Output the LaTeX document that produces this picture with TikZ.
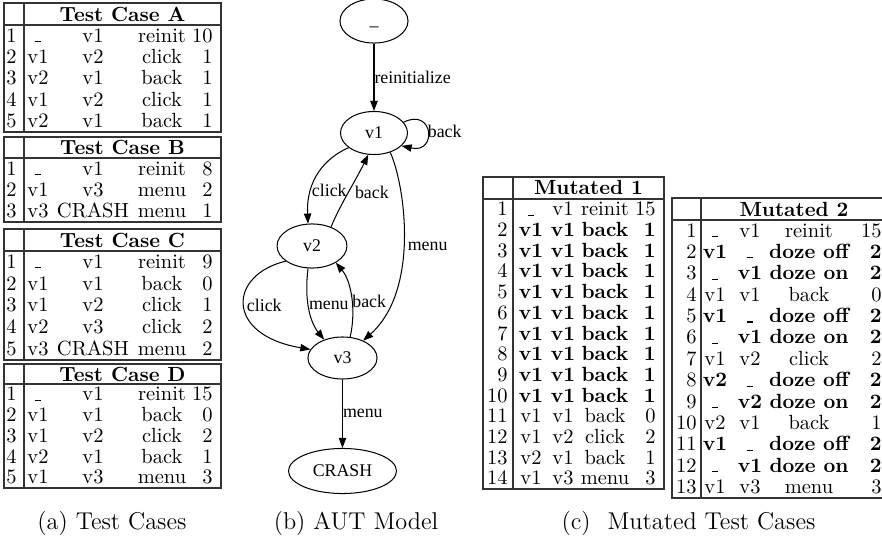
\documentclass[tikz,border=0pt]{standalone}
\usepackage{fontspec}
\usetikzlibrary{shapes.geometric,arrows.meta}
\newfontfamily\gvfont{Liberation Serif}
\newcommand\blank{\rule{0.32em}{0.06em}}
\newcommand\tabfont{\fontsize{10}{12}\selectfont}
\tikzset{
  tline/.style={draw=black!80, line width=0.7pt},
  hdline/.style={draw=black!80, line width=1pt},
  tt/.style={inner sep=0pt, font=\tabfont},
  fb/.style={font=\tabfont\bfseries},
  gv/.style={ellipse, draw, line width=0.5pt, inner sep=0pt, font=\gvfont\fontsize{8.7}{10.5}\selectfont},
  elab/.style={font=\gvfont\fontsize{8.7}{10.5}\selectfont, inner sep=0pt, anchor=west},
  conn/.style={draw, line width=0.5pt, -{Triangle[length=4.9pt,width=3.6pt]}},
  captext/.style={font=\fontsize{11.85}{14}\selectfont, anchor=base, inner sep=0pt}
}
% #1 name, #2 title, #3 top, #4 header line, #5 row spacing, #6 number of rows, #7 rows
\newcommand\tcase[7]{%
  \pgfmathsetmacro\tbot{#4+#5*#6}
  \draw[tline] (4,#3) rectangle (221,\tbot);
  \draw[tline] (24,#3) -- (24,\tbot);
  \draw[hdline] (4,#4) -- (221,#4);
  \node[tt,fb,anchor=base] (#1-h) at (122.5,{(#3+#4)/2+7}) {#2};
  \foreach \pn/\pa/\pb/\pc/\pd [count=\ri] in {#7}{
    \pgfmathsetmacro\yy{#4+#5*(\ri-0.51)+6.6}
    \node[tt,anchor=base east] (#1-\ri-0) at (17,\yy) {\pn};
    \node[tt,anchor=base] (#1-\ri-1) at (38,\yy) {\pa};
    \node[tt,anchor=base] (#1-\ri-2) at (93,\yy) {\pb};
    \node[tt,anchor=base] (#1-\ri-3) at (162,\yy) {\pc};
    \node[tt,anchor=base east] (#1-\ri-4) at (213,\yy) {\pd};
  }
}
\begin{document}
\begin{tikzpicture}[x=0.4878pt,y=-0.4878pt]
\useasboundingbox (0,0) rectangle (882,541);

% ---------- (a) test cases ----------
\tcase{A}{Test Case A}{3}{25}{21.4}{5}{1/\blank/v1/reinit/10,2/v1/v2/click/1,3/v2/v1/back/1,4/v1/v2/click/1,5/v2/v1/back/1}
\tcase{B}{Test Case B}{137}{158}{21.3}{3}{1/\blank/v1/reinit/8,2/v1/v3/menu/2,3/v3/CRASH/menu/1}
\tcase{C}{Test Case C}{229}{251}{21.8}{5}{1/\blank/v1/reinit/9,2/v1/v1/back/0,3/v1/v2/click/1,4/v2/v3/click/2,5/v3/CRASH/menu/2}
\tcase{D}{Test Case D}{364}{384}{20.8}{5}{1/\blank/v1/reinit/15,2/v1/v1/back/0,3/v1/v2/click/2,4/v2/v1/back/1,5/v1/v3/menu/3}

% ---------- (b) AUT model ----------
\node[gv, minimum width=33.2pt, minimum height=21.5pt] (s) at (374,21) {\strut\_};
\node[gv, minimum width=32.7pt, minimum height=21pt] (v1) at (374,133) {v1};
\node[gv, minimum width=34.1pt, minimum height=21.5pt] (v2) at (312,246) {v2};
\node[gv, minimum width=33.7pt, minimum height=20.5pt] (v3) at (342.5,358) {v3};
\node[gv, minimum width=52.7pt, minimum height=22pt] (crash) at (342.5,471) {CRASH};

\draw[conn] (s) -- node[elab, pos=0.5] {reinitialize} (v1);
\draw[conn] (v1.20) .. controls +(30,-15) and +(36,8) .. node[elab, pos=0.5] {back} (v1.-25);
\draw[conn] (v1.210) .. controls (325,158) and (306,180) .. node[elab, pos=0.7] {click} (v2.100);
\draw[conn] (v2.45) .. controls (340,205) and (356,180) .. node[elab, pos=0.5, xshift=3pt] {back} (v1.255);
\draw[conn] (v1.-50) .. controls (405,185) and (420,290) .. node[elab, pos=0.53, xshift=2pt] {menu} (v3.40);
\draw[conn] (v2.210) .. controls (228,275) and (225,335) .. node[elab, pos=0.5, xshift=1pt] {click} (v3.165);
\draw[conn] (v2.260) .. controls (304,300) and (310,322) .. node[elab, pos=0.45] {menu} (v3.135);
\draw[conn] (v3.70) .. controls (356,312) and (352,282) .. node[elab, pos=0.45] {back} (v2.-35);
\draw[conn] (v3) -- node[elab, pos=0.5] {menu} (crash);

% ---------- (c) mutated test cases ----------
\draw[tline] (483,177) rectangle (664,489);
\draw[tline] (513,177) -- (513,489);
\draw[hdline] (483,199) -- (664,199);
\node[tt,fb,anchor=base] (M1-h) at (588.5,195) {Mutated 1};
\foreach \pn/\pa/\pb/\pc/\pd/\ps [count=\ri] in {
  1/\blank/v1/reinit/15/\mdseries,
  2/v1/v1/back/1/\bfseries, 3/v1/v1/back/1/\bfseries, 4/v1/v1/back/1/\bfseries,
  5/v1/v1/back/1/\bfseries, 6/v1/v1/back/1/\bfseries, 7/v1/v1/back/1/\bfseries,
  8/v1/v1/back/1/\bfseries, 9/v1/v1/back/1/\bfseries, 10/v1/v1/back/1/\bfseries,
  11/v1/v1/back/0/\mdseries, 12/v1/v2/click/2/\mdseries,
  13/v2/v1/back/1/\mdseries, 14/v1/v3/menu/3/\mdseries}{
  \pgfmathsetmacro\yy{199+20.71*(\ri-0.51)+6.6}
  \node[tt,anchor=base east] (M1-\ri-0) at (508,\yy) {\pn};
  \node[tt,font=\tabfont\ps,anchor=base] (M1-\ri-1) at (531,\yy) {\pa};
  \node[tt,font=\tabfont\ps,anchor=base] (M1-\ri-2) at (563,\yy) {\pb};
  \node[tt,font=\tabfont\ps,anchor=base] (M1-\ri-3) at (605,\yy) {\pc};
  \node[tt,font=\tabfont\ps,anchor=base east] (M1-\ri-4) at (656,\yy) {\pd};
}

\draw[tline] (882,198) -- (672,198) -- (672,498) -- (882,498);
\draw[tline] (701,198) -- (701,498);
\draw[hdline] (672,220) -- (882,220);
\node[tt,fb,anchor=base] (M2-h) at (794,216) {Mutated 2};
\foreach \pn/\pa/\pb/\pc/\pd/\ps [count=\ri] in {
  1/\blank/v1/reinit/15/\mdseries,
  2/v1/\blank/doze off/2/\bfseries, 3/\blank/v1/doze on/2/\bfseries,
  4/v1/v1/back/0/\mdseries,
  5/v1/\blank/doze off/2/\bfseries, 6/\blank/v1/doze on/2/\bfseries,
  7/v1/v2/click/2/\mdseries,
  8/v2/\blank/doze off/2/\bfseries, 9/\blank/v2/doze on/2/\bfseries,
  10/v2/v1/back/1/\mdseries,
  11/v1/\blank/doze off/2/\bfseries, 12/\blank/v1/doze on/2/\bfseries,
  13/v1/v3/menu/3/\mdseries}{
  \pgfmathsetmacro\yy{220+21.38*(\ri-0.51)+6.6}
  \node[tt,anchor=base east] (M2-\ri-0) at (697,\yy) {\pn};
  \node[tt,font=\tabfont\ps,anchor=base] (M2-\ri-1) at (715,\yy) {\pa};
  \node[tt,font=\tabfont\ps,anchor=base] (M2-\ri-2) at (750,\yy) {\pb};
  \node[tt,font=\tabfont\ps,anchor=base] (M2-\ri-3) at (809,\yy) {\pc};
  \node[tt,font=\tabfont\ps,anchor=base east] (M2-\ri-4) at (882,\yy) {\pd};
}

% ---------- captions ----------
\node[captext] (capa) at (112,529) {(a) Test Cases};
\node[captext] (capb) at (356,529) {(b) AUT Model};
\node[captext] (capc) at (688.5,529) {(c)\hspace{8.3pt}Mutated Test Cases};
\end{tikzpicture}
\end{document}
